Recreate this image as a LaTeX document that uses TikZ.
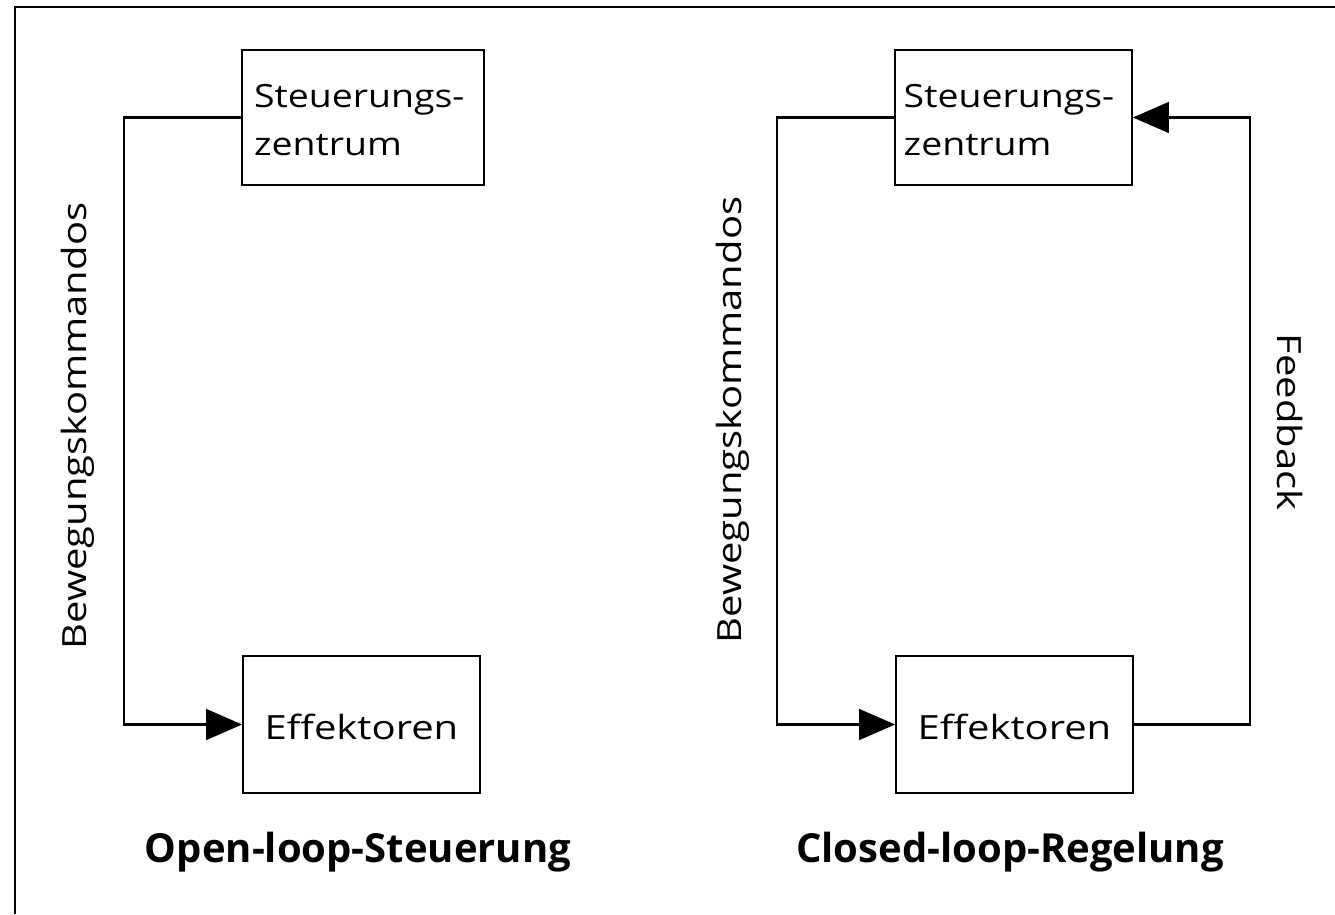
\documentclass[tikz,border=0pt]{standalone}
\usepackage{fontspec}
\setmainfont{Open Sans}
\newfontfamily\widesans[FakeStretch=1.2]{Open Sans}
\newfontfamily\boxsans[FakeStretch=1.17]{Open Sans}
\usetikzlibrary{arrows.meta}
\newdimen\tikzunitx
\tikzunitx=0.75pt
\tikzset{
  box/.style={draw, line width=1.3pt, minimum width=237\tikzunitx, inner sep=0pt},
  conn/.style={line width=2pt},
  tip/.style={-{Triangle[length=27pt,width=23pt]}},
  lbl/.style={font=\widesans\fontsize{25}{36}\selectfont, inner sep=0pt},
  boxlbl/.style={font=\boxsans\fontsize{24}{36}\selectfont, inner sep=0pt},
  ttl/.style={font=\fontsize{30}{36}\selectfont\bfseries, inner sep=0pt},
}
\begin{document}
\begin{tikzpicture}[x=0.75pt,y=-0.75pt]
\useasboundingbox (0,0) rectangle (1335,914);
% open frame
\coordinate (fa) at (15,914);
\coordinate (fb) at (15,7);
\coordinate (fc) at (1335,7);
\draw[line width=1.5pt] (fa) -- (fb) -- (fc);

% open loop
\node[box, minimum height=135\tikzunitx, minimum width=242\tikzunitx] (lctrl) at (363,117.5) {};
\node[boxlbl, anchor=west, align=left] (lctrlt) at ([xshift=9.5pt,yshift=-2pt]lctrl.west) {Steuerungs-\\zentrum};
\node[box, minimum height=137\tikzunitx] (leff) at (361.5,724.5) {};
\node[lbl] (lefft) at ([yshift=-2pt]leff.center) {Effektoren};
\coordinate (lbend) at (124,117.5);
\draw[conn, tip] (lctrl.west) -- (lbend) |- (leff.west);
\node[lbl, rotate=90] (lcmd) at (78,426) {Bewegungskommandos};
\node[ttl] (ltitle) at (358,852) {Open-loop-Steuerung};

% closed loop
\node[box, minimum height=135\tikzunitx] (rctrl) at (1013.5,117.5) {};
\node[boxlbl, anchor=west, align=left] (rctrlt) at ([xshift=7pt,yshift=-2pt]rctrl.west) {Steuerungs-\\zentrum};
\node[box, minimum height=137\tikzunitx] (reff) at (1014.5,724.5) {};
\node[lbl] (refft) at ([yshift=-2pt]reff.center) {Effektoren};
\coordinate (rbendl) at (777,117.5);
\coordinate (rbendr) at (1250,724.5);
\draw[conn, tip] (rctrl.west) -- (rbendl) |- (reff.west);
\draw[conn, tip] (reff.east) -- (rbendr) |- (rctrl.east);
\node[lbl, rotate=90] (rcmd) at (733,420) {Bewegungskommandos};
\node[lbl, rotate=-90] (rfb) at (1290,422) {Feedback};
\node[ttl] (rtitle) at (1010,852) {Closed-loop-Regelung};
\end{tikzpicture}
\end{document}
